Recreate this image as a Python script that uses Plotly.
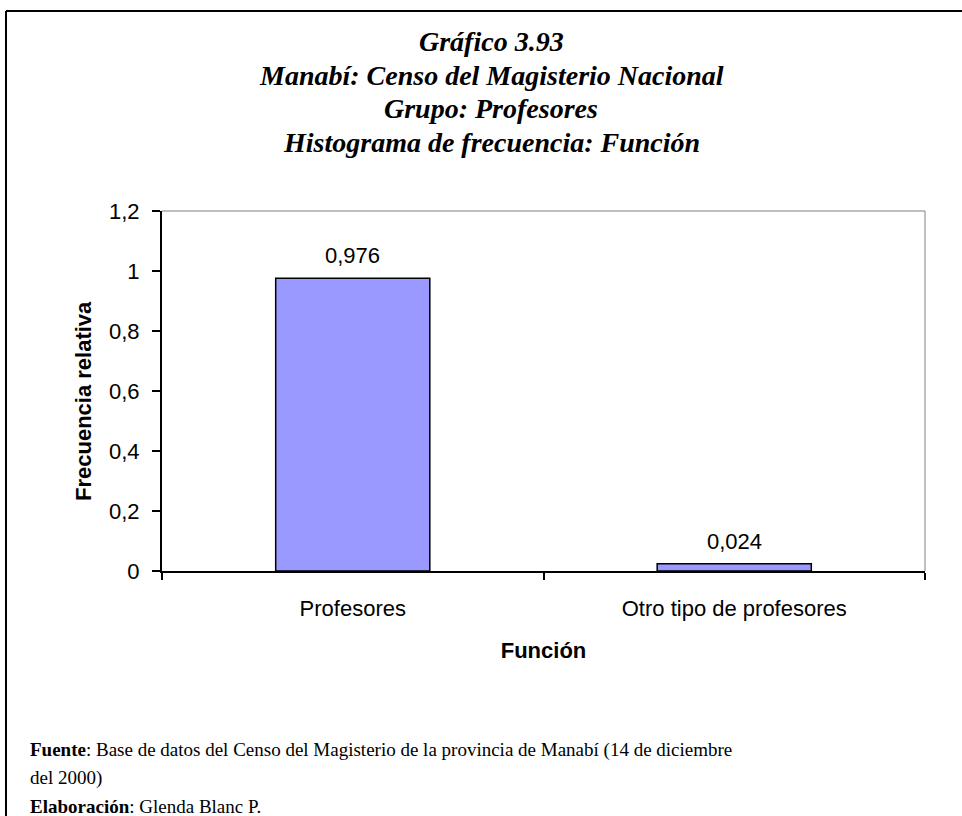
import plotly.graph_objects as go

# Data
categorias = ["Profesores", "Otro tipo de profesores"]
frecuencia_relativa = [0.976, 0.024]
y_ticks = [0, 0.2, 0.4, 0.6, 0.8, 1.0, 1.2]

titulo = [
    "Gráfico 3.93",
    "Manabí: Censo del Magisterio Nacional",
    "Grupo: Profesores",
    "Histograma de frecuencia: Función",
]
pie = [
    "<b>Fuente</b>: Base de datos del Censo del Magisterio de la provincia de Manabí (14 de diciembre",
    "del 2000)",
    "<b>Elaboración</b>: Glenda Blanc P.",
]

# Page geometry (pixels)
W, H = 962, 816
L, R, T, B = 162, 37, 211, 245
PW, PH = W - L - R, H - T - B


def px(x):
    return (x - L) / PW


def py(y):
    return (H - B - y) / PH


SANS = "Arial, Liberation Sans, sans-serif"
SERIF = "Times New Roman, Liberation Serif, serif"

fig = go.Figure()
fig.add_trace(go.Bar(
    x=categorias,
    y=frecuencia_relativa,
    width=0.404,
    marker=dict(color="#9999FF", line=dict(color="black", width=1.5)),
    hoverinfo="skip",
))

annotations = []
# Value labels above each bar
for c, v in zip(categorias, frecuencia_relativa):
    annotations.append(dict(
        x=c, y=v, xref="x", yref="y",
        text=f"{v:.3f}".replace(".", ","),
        showarrow=False, yanchor="bottom", yshift=8,
        font=dict(family=SANS, size=22, color="black"),
    ))

# Y-axis title, placed as a rotated label
annotations.append(dict(
    x=px(83), y=py(401), xref="paper", yref="paper",
    text="<b>Frecuencia relativa</b>", textangle=-90, showarrow=False,
    xanchor="center", yanchor="middle",
    font=dict(family=SANS, size=22, color="black"),
))

# Title lines
for i, line in enumerate(titulo):
    annotations.append(dict(
        x=px(491), y=py(42 + 33.5 * i), xref="paper", yref="paper",
        text=f"<b><i>{line}</i></b>", showarrow=False,
        xanchor="center", yanchor="middle",
        font=dict(family=SERIF, size=28, color="black"),
    ))

# Footer lines
for i, line in enumerate(pie):
    annotations.append(dict(
        x=px(28), y=py(750 + 28 * i), xref="paper", yref="paper",
        text=line, showarrow=False,
        xanchor="left", yanchor="middle",
        font=dict(family=SERIF, size=19, color="black"),
    ))

shapes = [
    # outer frame: left and top edges
    dict(type="line", xref="paper", yref="paper",
         x0=px(6), y0=py(11), x1=px(6), y1=py(820),
         line=dict(color="black", width=2)),
    dict(type="line", xref="paper", yref="paper",
         x0=px(6), y0=py(11), x1=px(970), y1=py(11),
         line=dict(color="black", width=2)),
    # plot area top and right edges
    dict(type="line", xref="paper", yref="paper",
         x0=0, y0=1, x1=1, y1=1, line=dict(color="#808080", width=1)),
    dict(type="line", xref="paper", yref="paper",
         x0=1, y0=0, x1=1, y1=1, line=dict(color="#808080", width=1)),
]

fig.update_layout(
    width=W, height=H,
    margin=dict(l=L, r=R, t=T, b=B),
    paper_bgcolor="white", plot_bgcolor="white",
    separators=",.",
    showlegend=False,
    annotations=annotations,
    shapes=shapes,
    xaxis=dict(
        type="category",
        tickson="boundaries",
        ticks="outside", ticklen=7, tickwidth=2, tickcolor="black",
        ticklabelstandoff=17,
        showline=True, linecolor="black", linewidth=2,
        showgrid=False, zeroline=False,
        tickfont=dict(family=SANS, size=22, color="black"),
        title=dict(text="<b>Función</b>", standoff=22,
                   font=dict(family=SANS, size=22, color="black")),
    ),
    yaxis=dict(
        range=[0, 1.2],
        tickvals=y_ticks,
        ticks="outside", ticklen=8, tickwidth=2, tickcolor="black",
        ticklabelstandoff=8,
        showline=True, linecolor="black", linewidth=2,
        showgrid=False, zeroline=False,
        tickfont=dict(family=SANS, size=22, color="black"),
    ),
)

fig.write_html("out.html")
